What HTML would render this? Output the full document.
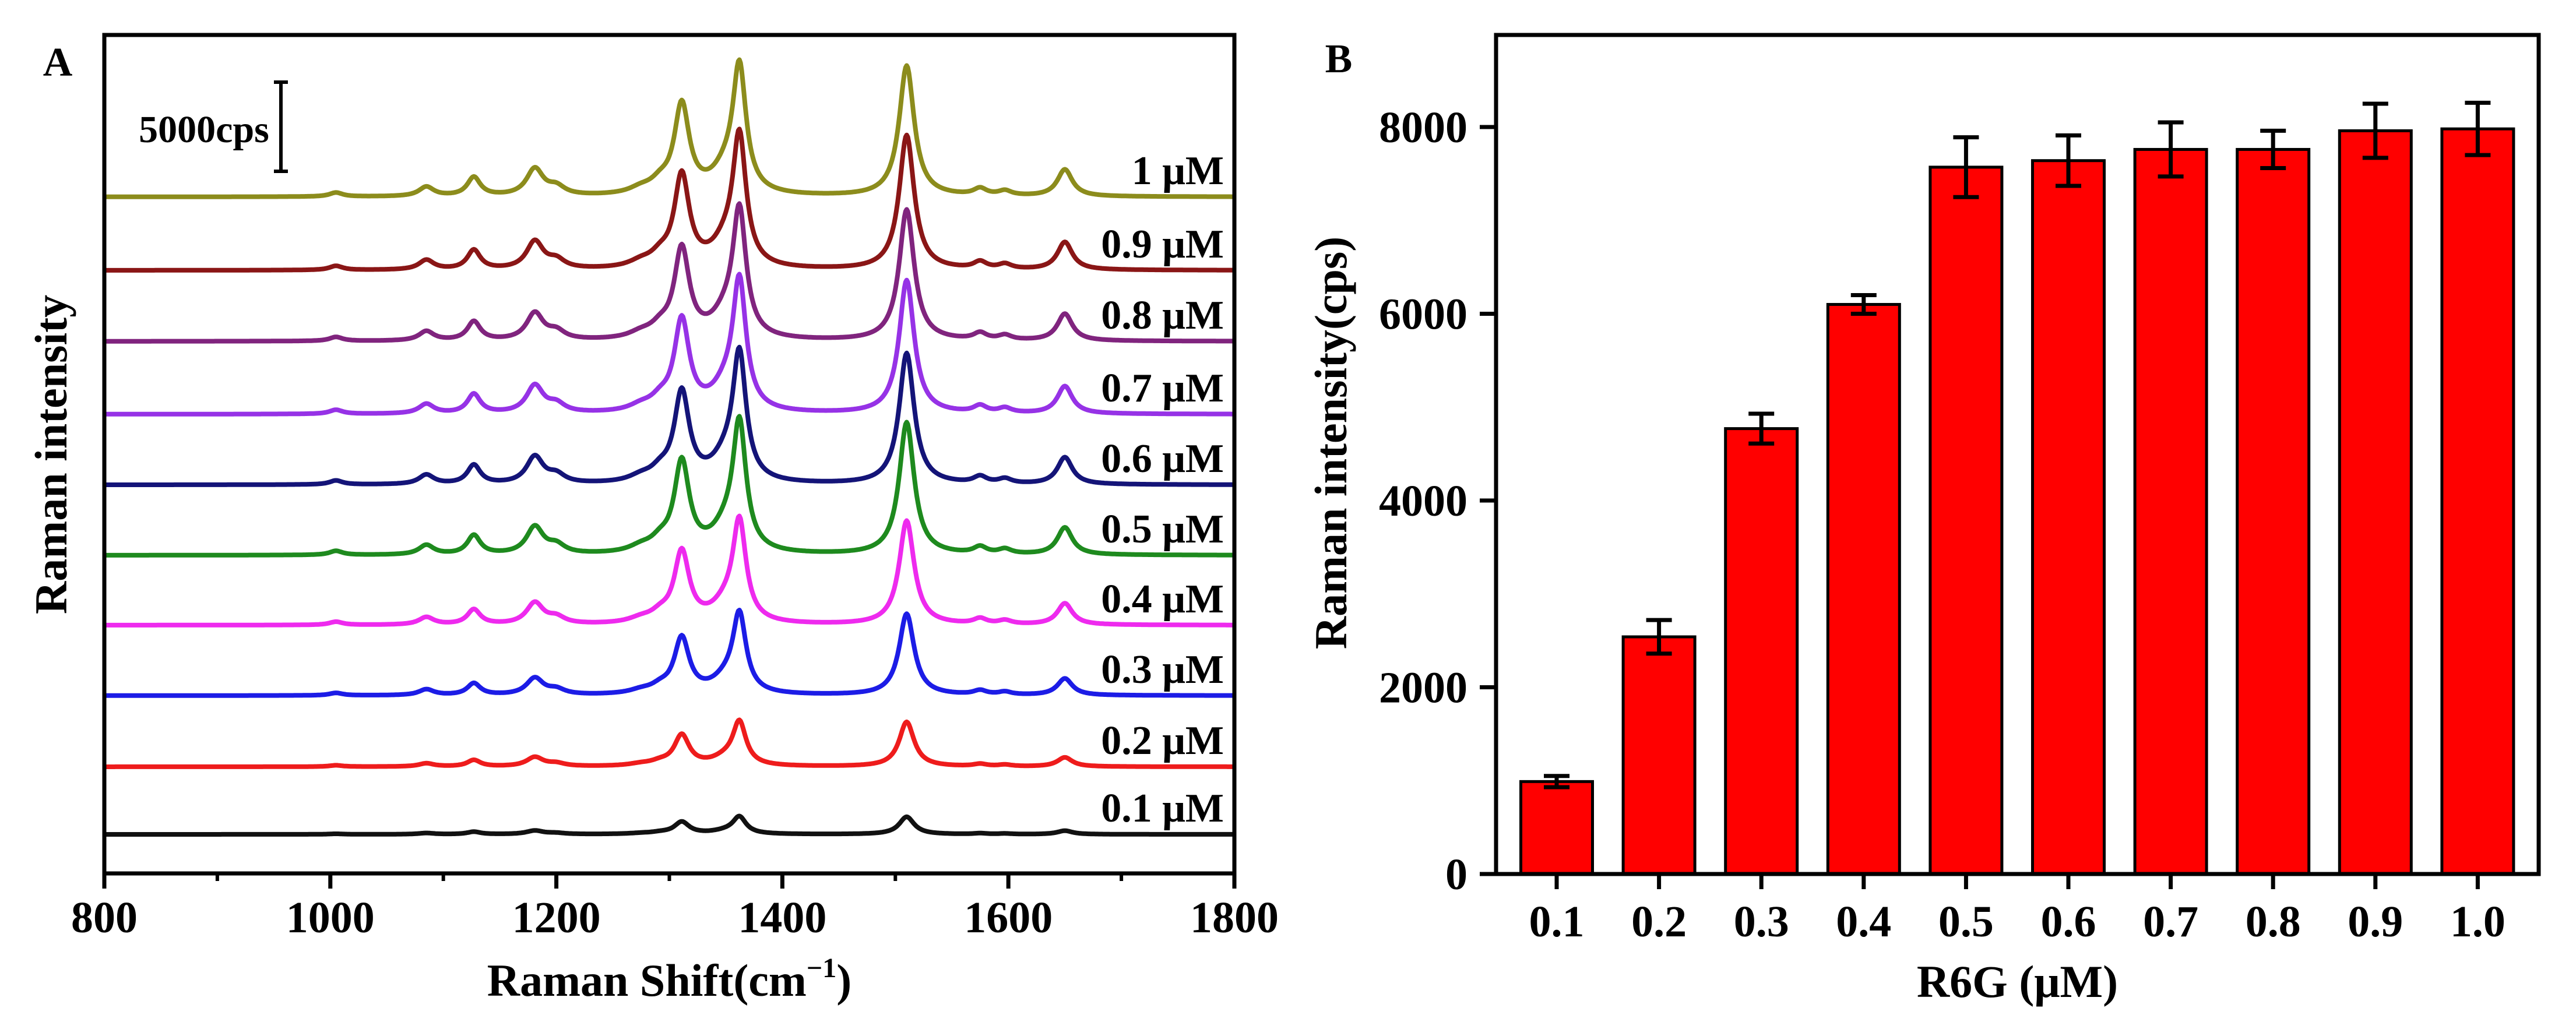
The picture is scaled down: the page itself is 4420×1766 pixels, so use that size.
<!DOCTYPE html>
<html><head><meta charset="utf-8"><style>
html,body{margin:0;padding:0;background:#fff;}
svg{display:block;font-family:"Liberation Serif",serif;font-weight:bold;}
</style></head><body>
<svg id="fig" width="4420" height="1766" viewBox="0 0 4420 1766" xmlns="http://www.w3.org/2000/svg">
<rect width="4420" height="1766" fill="#fff"/>
<g id="panelA"></g>
<g id="panelB"></g>
</svg>
<script>
// ---------- Panel A data ----------
const concLabels = ["0.1 μM","0.2 μM","0.3 μM","0.4 μM","0.5 μM","0.6 μM","0.7 μM","0.8 μM","0.9 μM","1 μM"];
const traceColors = ["#111111","#ee1c1c","#1c1ce6","#ee2aee","#1e8a1e","#141478","#9632e6","#80247e","#8a1616","#8c8c1c"];
const peak1510 = [1010,2580,4710,6010,7650,7580,7710,7580,7780,7550]; // cps at 1510 cm-1
const traceOffsets = [0,3790,7780,11730,15650,19600,23560,27650,31630,35750]; // cps stacking offsets
const peakCenters = [1005,1085,1127,1181,1200,1275,1292,1311,1350,1362,1510,1575,1597,1650];
const peakRelAmps = [0.03,0.07,0.14,0.20,0.06,0.04,0.07,0.66,0.16,0.90,0.97,0.05,0.035,0.20];
const peakHalfWidths = [7,8,7,9,9,13,10,8,15,7,8,7,7,8];
const xTicksA = [800,1000,1200,1400,1600,1800];
const xMinorA = [900,1100,1300,1500,1700];

// ---------- Panel B data ----------
const categoriesB = ["0.1","0.2","0.3","0.4","0.5","0.6","0.7","0.8","0.9","1.0"];
const barValues = [990,2540,4770,6100,7570,7640,7760,7760,7960,7980];
const barErrors = [60,180,160,100,320,270,290,200,290,280];
const yTicksB = [0,2000,4000,6000,8000];

const NS = "http://www.w3.org/2000/svg";
function mk(tag, attrs, parent, text){
  const e = document.createElementNS(NS, tag);
  for (const k in attrs) e.setAttribute(k, attrs[k]);
  if (text !== undefined) e.textContent = text;
  parent.appendChild(e);
  return e;
}

// ===== Panel A =====
const A = document.getElementById('panelA');
const aL=179, aR=2118, aT=60, aB=1499, aBase=1432, pxPerCps=153/5000;
const xA = v => aL + (v-800)/1000*(aR-aL);
const yA = v => aBase - v*pxPerCps;

for (let s=0; s<concLabels.length; s++){
  let d = "";
  for (let w=800; w<=1800; w+=1){
    let sum = 0;
    for (let p=0;p<peakCenters.length;p++){
      const g = peakHalfWidths[p], dx = w-peakCenters[p];
      sum += peakRelAmps[p]*g*g/(dx*dx+g*g);
    }
    const v = traceOffsets[s] + sum*peak1510[s];
    d += (w===800?"M":"L") + xA(w).toFixed(1) + "," + yA(v).toFixed(1);
  }
  const path = mk('path',{d:d,fill:"none",stroke:traceColors[s],"stroke-width":8,"stroke-linejoin":"round"},A);
  
  
  const lab = mk('text',{x:2100,y:(yA(traceOffsets[s])-22).toFixed(1),"text-anchor":"end","font-size":70},A,concLabels[s]);
  
  
}
// frame
const frameA = mk('rect',{x:aL,y:aT,width:aR-aL,height:aB-aT,fill:"none",stroke:"#000","stroke-width":7},A);


xTicksA.forEach(t=>{
  const tk = mk('line',{x1:xA(t),x2:xA(t),y1:aB,y2:aB+26,stroke:"#000","stroke-width":7},A);
  
  
  const tl = mk('text',{x:xA(t),y:1600,"text-anchor":"middle","font-size":76},A,String(t));
  
  
});
xMinorA.forEach(t=>{
  const tk = mk('line',{x1:xA(t),x2:xA(t),y1:aB,y2:aB+13,stroke:"#000","stroke-width":6},A);
  
  
});
const xtA = mk('text',{x:(aL+aR)/2,y:1709,"text-anchor":"middle","font-size":78},A);


xtA.innerHTML = 'Raman Shift(cm<tspan dy="-32" font-size="48">−1</tspan><tspan dy="32">)</tspan>';
const ytA = mk('text',{x:0,y:0,"text-anchor":"middle","font-size":78,transform:"translate(114,780) rotate(-90)"},A,"Raman intensity");


const la = mk('text',{x:99,y:130,"text-anchor":"middle","font-size":70},A,"A");


// scale bar
const sbY1 = 141, sbY2 = sbY1 + 5000*pxPerCps;
const sb = mk('g',{},A);


mk('line',{x1:482,x2:482,y1:sbY1,y2:sbY2,stroke:"#000","stroke-width":6},sb);
mk('line',{x1:470,x2:494,y1:sbY1,y2:sbY1,stroke:"#000","stroke-width":6},sb);
mk('line',{x1:470,x2:494,y1:sbY2,y2:sbY2,stroke:"#000","stroke-width":6},sb);
const sbt = mk('text',{x:350,y:244,"text-anchor":"middle","font-size":66},sb,"5000cps");



// ===== Panel B =====
const B = document.getElementById('panelB');
const bL=2567, bR=4356, bT=60, bB=1500;
const xB = i => 2671 + i*175.6;
const yB = v => bB - v/8000*(bB-218);
const barW = 123;
for (let i=0;i<categoriesB.length;i++){
  const r = mk('rect',{x:xB(i)-barW/2,y:yB(barValues[i]),width:barW,height:bB-yB(barValues[i]),fill:"#ff0000",stroke:"#000","stroke-width":5},B);
  
  
  const eb = mk('g',{stroke:"#000","stroke-width":7},B);
  
  
  const y1 = yB(barValues[i]+barErrors[i]), y2 = yB(barValues[i]-barErrors[i]);
  mk('line',{x1:xB(i),x2:xB(i),y1:y1,y2:y2},eb);
  mk('line',{x1:xB(i)-22,x2:xB(i)+22,y1:y1,y2:y1},eb);
  mk('line',{x1:xB(i)-22,x2:xB(i)+22,y1:y2,y2:y2},eb);
  const tk = mk('line',{x1:xB(i),x2:xB(i),y1:bB,y2:bB+26,stroke:"#000","stroke-width":7},B);
  
  
  const tl = mk('text',{x:xB(i),y:1607,"text-anchor":"middle","font-size":76},B,categoriesB[i]);
  
  
}
const frameB = mk('rect',{x:bL,y:bT,width:bR-bL,height:bB-bT,fill:"none",stroke:"#000","stroke-width":7},B);


yTicksB.forEach(t=>{
  const tk = mk('line',{x1:bL-28,x2:bL,y1:yB(t),y2:yB(t),stroke:"#000","stroke-width":7},B);
  
  
  const tl = mk('text',{x:2518,y:yB(t)+26,"text-anchor":"end","font-size":76},B,String(t));
  
  
});
const xtB = mk('text',{x:(bL+bR)/2,y:1711,"text-anchor":"middle","font-size":78},B,"R6G (μM)");


const ytB = mk('text',{x:0,y:0,"text-anchor":"middle","font-size":78,transform:"translate(2310,760) rotate(-90)"},B,"Raman intensity(cps)");


const lb = mk('text',{x:2297,y:124,"text-anchor":"middle","font-size":70},B,"B");


</script>
</body></html>
